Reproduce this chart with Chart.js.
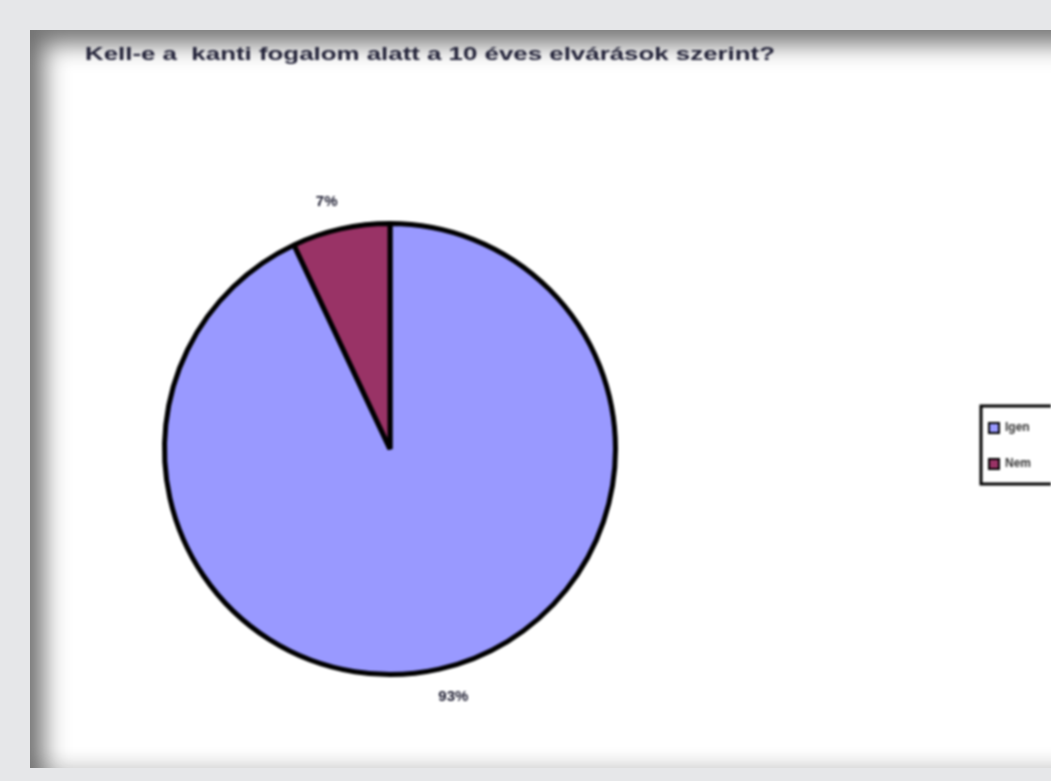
<!DOCTYPE html>
<html>
<head>
<meta charset="utf-8">
<script src="https://cdn.jsdelivr.net/npm/chart.js@4"></script>
<style>
  html, body { margin: 0; padding: 0; width: 1051px; height: 781px; overflow: hidden; background: #e6e7e9; }
  #panel { position: absolute; left: 30px; top: 30px; width: 1040px; height: 738px; background: #ffffff;
           box-shadow: inset 14px 14px 24px rgba(0,0,0,0.55), inset 0 -10px 14px rgba(0,0,0,0.08); }
  #wrap { position: absolute; left: 0; top: 0; width: 1051px; height: 781px; }
  canvas { filter: blur(1px); }
</style>
</head>
<body>
<div id="panel"></div>
<div id="wrap"><canvas id="c" width="1051" height="781"></canvas></div>
<script>
const titleText = "Kell-e a  kanti fogalom alatt a 10 éves elvárások szerint?";
const categories = ["Igen", "Nem"];
const values = [93, 7];
const valueLabels = ["93%", "7%"];
const colors = ["#9999ff", "#993366"];

const chartTitle = {
  id: 'chartTitle',
  afterDraw(chart) {
    const ctx = chart.ctx;
    ctx.save();
    ctx.font = 'bold 19px "Liberation Sans Narrow", "Liberation Sans", sans-serif';
    ctx.fillStyle = '#222238';
    ctx.textBaseline = 'middle';
    const w = ctx.measureText(titleText).width;
    const sx = 690 / w;
    ctx.translate(85, 55);
    ctx.scale(sx, 1);
    ctx.fillText(titleText, 0, 0);
    ctx.restore();
  }
};

const outerLabels = {
  id: 'outerLabels',
  afterDatasetsDraw(chart) {
    const ctx = chart.ctx;
    const meta = chart.getDatasetMeta(0);
    ctx.save();
    ctx.font = 'bold 15px "Liberation Sans Narrow", "Liberation Sans", sans-serif';
    ctx.fillStyle = '#1a1a2e';
    ctx.textAlign = 'center';
    ctx.textBaseline = 'middle';
    meta.data.forEach((arc, i) => {
      const p = arc.getProps(['x', 'y', 'startAngle', 'endAngle', 'outerRadius'], true);
      const mid = (p.startAngle + p.endAngle) / 2;
      const r = p.outerRadius + 28;
      const c = Math.cos(mid);
      const nudge = c < 0 ? -8 : 8;
      ctx.fillText(valueLabels[i], p.x + c * r + nudge, p.y + Math.sin(mid) * r);
    });
    ctx.restore();
  }
};

const boxLegend = {
  id: 'boxLegend',
  afterDraw(chart) {
    const ctx = chart.ctx;
    const x = 981, y = 406, w = 90, h = 78;
    ctx.save();
    ctx.lineWidth = 3;
    ctx.strokeStyle = '#000';
    ctx.fillStyle = '#fff';
    ctx.fillRect(x, y, w, h);
    ctx.strokeRect(x, y, w, h);
    ctx.font = 'bold 12px "Liberation Sans Narrow", "Liberation Sans", sans-serif';
    ctx.textBaseline = 'middle';
    ctx.textAlign = 'left';
    chart.data.labels.forEach((lab, i) => {
      const cy = y + 22 + i * 36;
      ctx.fillStyle = chart.data.datasets[0].backgroundColor[i];
      ctx.fillRect(x + 8, cy - 5, 10, 10);
      ctx.lineWidth = 2;
      ctx.strokeRect(x + 8, cy - 5, 10, 10);
      ctx.fillStyle = '#333';
      ctx.fillText(lab, x + 24, cy);
    });
    ctx.restore();
  }
};

new Chart(document.getElementById('c'), {
  type: 'pie',
  data: {
    labels: categories,
    datasets: [{
      data: values,
      backgroundColor: colors,
      borderColor: '#000000',
      borderWidth: 5
    }]
  },
  options: {
    responsive: false,
    devicePixelRatio: 1,
    animation: false,
    layout: { padding: { left: 162, top: 221, right: 433, bottom: 104 } },
    plugins: {
      legend: { display: false },
      tooltip: { enabled: false },
      title: { display: false }
    }
  },
  plugins: [chartTitle, outerLabels, boxLegend]
});
</script>
</body>
</html>
